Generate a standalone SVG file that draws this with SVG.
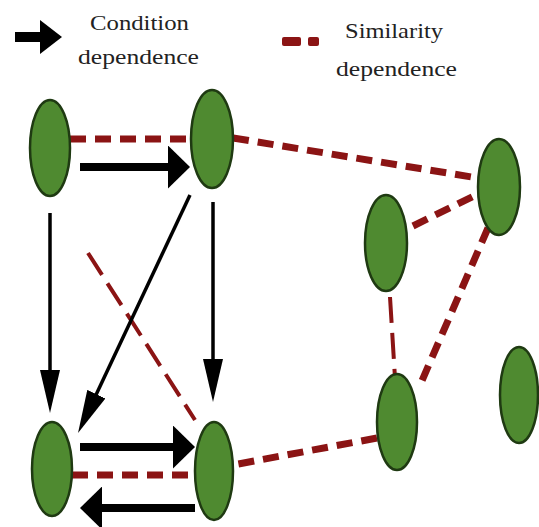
<svg xmlns="http://www.w3.org/2000/svg" width="539" height="527" viewBox="0 0 539 527">
  <style>
    .node { fill: #4f8a30; stroke: #1f3a12; stroke-width: 2.5; }
    .sim { fill: none; stroke: #8b1414; stroke-width: 7; stroke-dasharray: 16 9; }
    .sim-thin { fill: none; stroke: #8b1414; stroke-width: 4; stroke-dasharray: 26 10; }
    .cond { fill: none; stroke: #000; stroke-width: 8; marker-end: url(#headThick); }
    .cond-thin { fill: none; stroke: #000; stroke-width: 3.5; marker-end: url(#headThin); }
    .label { font-family: "Liberation Serif", "DejaVu Serif", serif; font-size: 22px; fill: #222; }
  </style>
  <defs>
    <marker id="headThick" markerUnits="userSpaceOnUse" markerWidth="22" markerHeight="43" refX="14" refY="21.5" orient="auto">
      <path d="M0,0 L22,21.5 L0,43 z" fill="#000"/>
    </marker>
    <marker id="headThin" markerUnits="userSpaceOnUse" markerWidth="43" markerHeight="20" refX="33" refY="10" orient="auto">
      <path d="M0,0 L43,10 L0,20 z" fill="#000"/>
    </marker>
  </defs>

  <rect width="539" height="527" fill="#fff"/>

  <!-- legend -->
  <g id="legend">
    <line x1="15" y1="37" x2="46" y2="37" stroke="#000" stroke-width="10"/>
    <path d="M40,20 L62,37 L40,54 z" fill="#000"/>
    <text class="label" x="90" y="30" textLength="99" lengthAdjust="spacingAndGlyphs">Condition</text>
    <text class="label" x="78" y="64" textLength="121" lengthAdjust="spacingAndGlyphs">dependence</text>
    <rect x="282" y="37" width="19" height="9" rx="2" fill="#8b1414"/>
    <rect x="308" y="37" width="11" height="9" rx="2" fill="#8b1414"/>
    <text class="label" x="345" y="38" textLength="98" lengthAdjust="spacingAndGlyphs">Similarity</text>
    <text class="label" x="336" y="76" textLength="121" lengthAdjust="spacingAndGlyphs">dependence</text>
  </g>

  <!-- connectors -->
  <g id="connectors">
    <!-- similarity dependence -->
    <line class="sim" x1="70" y1="139" x2="193" y2="139"/>
    <line class="sim" x1="233" y1="138" x2="478" y2="178"/>
    <line class="sim" x1="413" y1="226" x2="478" y2="194"/>
    <line class="sim" x1="488" y1="228" x2="421" y2="383"/>
    <line class="sim" x1="377" y1="438" x2="233" y2="465"/>
    <line class="sim" x1="72" y1="475" x2="195" y2="475"/>
    <line class="sim-thin" x1="390" y1="297" x2="395" y2="378" stroke-dasharray="36 24"/>
    <line class="sim-thin" x1="88" y1="253" x2="195" y2="420"/>
    <!-- condition dependence -->
    <line class="cond" x1="80" y1="167" x2="182" y2="167"/>
    <line class="cond" x1="80" y1="447" x2="187" y2="447"/>
    <line class="cond" x1="195" y1="508" x2="88" y2="508"/>
    <line class="cond-thin" x1="50" y1="213" x2="50" y2="403"/>
    <line class="cond-thin" x1="213" y1="202" x2="213" y2="392"/>
    <line class="cond-thin" x1="190" y1="195" x2="82.3" y2="424"/>
  </g>

  <!-- nodes -->
  <g id="n1"><ellipse class="node" cx="50" cy="148" rx="20" ry="48"/></g>
  <g id="n2"><ellipse class="node" cx="212" cy="139" rx="21" ry="49"/></g>
  <g id="n3"><ellipse class="node" cx="52" cy="469" rx="20" ry="47"/></g>
  <g id="n4"><ellipse class="node" cx="214" cy="471" rx="19" ry="49"/></g>
  <g id="n5"><ellipse class="node" cx="499" cy="187" rx="21" ry="48"/></g>
  <g id="n6"><ellipse class="node" cx="386" cy="243" rx="21" ry="48"/></g>
  <g id="n7"><ellipse class="node" cx="397" cy="422" rx="20" ry="48"/></g>
  <g id="n8"><ellipse class="node" cx="519" cy="395" rx="19" ry="48"/></g>
</svg>
